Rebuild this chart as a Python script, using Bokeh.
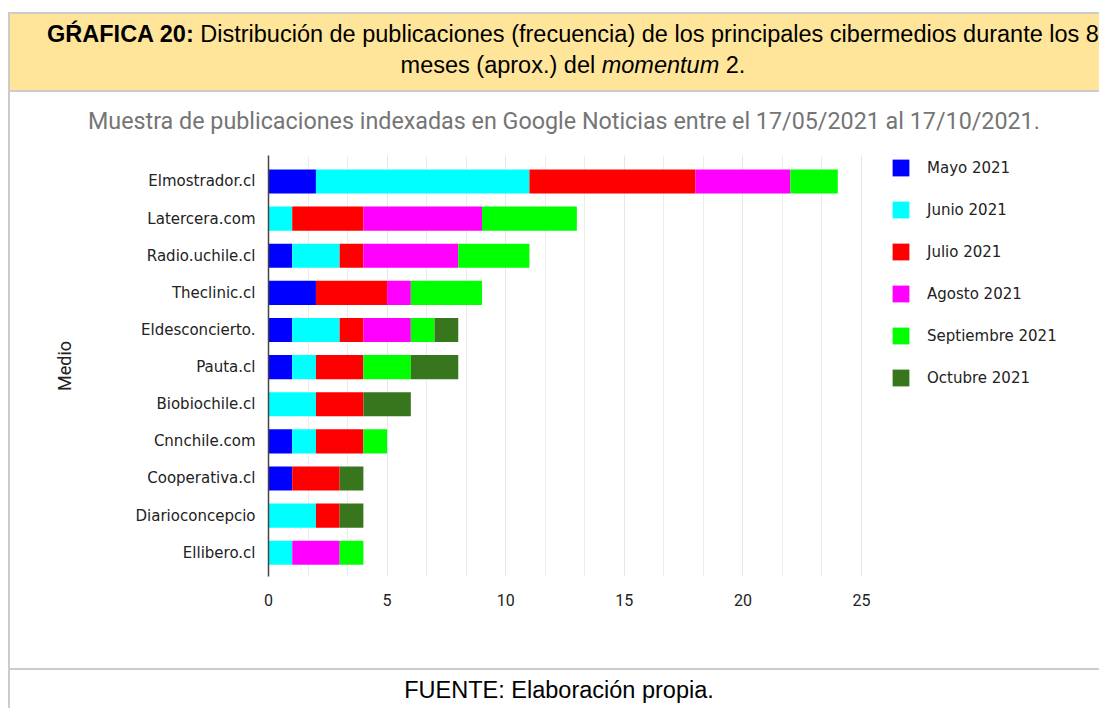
from bokeh.plotting import figure
from bokeh.models import ColumnDataSource, FixedTicker, Legend, LegendItem, Div, Range1d
from bokeh.layouts import column
from bokeh.embed import file_html
from bokeh.resources import INLINE

# ---------------- data ----------------
medios = ["Elmostrador.cl", "Latercera.com", "Radio.uchile.cl", "Theclinic.cl",
          "Eldesconcierto.", "Pauta.cl", "Biobiochile.cl", "Cnnchile.com",
          "Cooperativa.cl", "Diarioconcepcio", "Ellibero.cl"]
meses = ["Mayo 2021", "Junio 2021", "Julio 2021", "Agosto 2021",
         "Septiembre 2021", "Octubre 2021"]
mayo       = [2, 0, 1, 2, 1, 1, 0, 1, 1, 0, 0]
junio      = [9, 1, 2, 0, 2, 1, 2, 1, 0, 2, 1]
julio      = [7, 3, 1, 3, 1, 2, 2, 2, 2, 1, 0]
agosto     = [4, 5, 4, 1, 2, 0, 0, 0, 0, 0, 2]
septiembre = [2, 4, 3, 3, 1, 2, 0, 1, 0, 0, 1]
octubre    = [0, 0, 0, 0, 1, 2, 2, 0, 1, 1, 0]
colores = ["#0000ff", "#00ffff", "#ff0000", "#ff00ff", "#00ff00", "#38761d"]
x_ticks = [0, 5, 10, 15, 20, 25]

titulo = "Muestra de publicaciones indexadas en Google Noticias entre el 17/05/2021 al 17/10/2021."
eje_y = "Medio"

keys = ["mayo", "junio", "julio", "agosto", "septiembre", "octubre"]
pos = list(range(len(medios)))
src = ColumnDataSource(dict(pos=pos, mayo=mayo, junio=junio, julio=julio,
                            agosto=agosto, septiembre=septiembre, octubre=octubre))

# ---------------- figure ----------------
FW = 1089            # figure width (figure starts at x=10)
LEFT = 258           # frame starts at page x = 268
AXIS_PX = 593        # pixels spanned by 0..25
frame_w = FW - LEFT
x_end = 25 * frame_w / AXIS_PX

p = figure(width=FW, height=528, x_range=Range1d(0, x_end), y_range=Range1d(10.64, -0.70),
           output_backend="svg", toolbar_location=None,
           min_border_left=LEFT, min_border_right=0, min_border_top=15, min_border_bottom=92)
p.margin = (0, 0, 0, 10)
p.stylesheets = [":host { box-shadow: -2px 0 0 0 #cccccc; }"]
p.outline_line_color = None
p.background_fill_color = "white"
p.border_fill_color = "white"

rs = p.hbar_stack(keys, y="pos", height=0.65, fill_color=colores, line_color=None, source=src)

minor = [k * 5 / 3 for k in range(16)]
p.xaxis.ticker = FixedTicker(ticks=x_ticks, minor_ticks=minor)
p.xaxis.axis_line_color = None
p.xaxis.major_tick_line_color = None
p.xaxis.minor_tick_line_color = None
p.xaxis.major_label_text_font = "Roboto"
p.xaxis.major_label_text_font_size = "16px"
p.xaxis.major_label_text_color = "#222222"
p.xaxis.major_label_standoff = 11

p.xgrid.grid_line_color = "#e6e6e6"
p.xgrid.minor_grid_line_color = "#ececec"
p.ygrid.grid_line_color = None

p.yaxis.ticker = FixedTicker(ticks=pos)
p.yaxis.major_label_overrides = {i: m for i, m in zip(pos, medios)}
p.yaxis.axis_line_color = "#444444"
p.yaxis.axis_line_width = 1.5
p.yaxis.major_tick_line_color = None
p.yaxis.minor_tick_line_color = None
p.yaxis.major_label_standoff = 7
p.yaxis.major_label_text_font = "DejaVu Sans"
p.yaxis.major_label_text_font_size = "15px"
p.yaxis.major_label_text_color = "#222222"
p.yaxis.axis_label = eje_y
p.yaxis.axis_label_text_font = "Roboto"
p.yaxis.axis_label_text_font_size = "18px"
p.yaxis.axis_label_text_font_style = "normal"
p.yaxis.axis_label_text_color = "#222222"
p.yaxis.axis_label_standoff = 58

items = [LegendItem(label=m, renderers=[r]) for m, r in zip(meses, rs)]
legend = Legend(items=items, location=(622, 188), orientation="vertical",
                glyph_width=21, glyph_height=21, label_height=21, spacing=21,
                label_standoff=16, padding=0, margin=0,
                border_line_color=None, background_fill_alpha=0,
                label_text_font="DejaVu Sans", label_text_font_size="15px",
                label_text_color="#222222")
p.add_layout(legend, "center")

FONT = "font-family:'Liberation Sans',Arial,sans-serif;font-size:23.5px;color:#000;"

header = Div(width=1099, height=92, margin=0, text=(
    '<div style="width:1099px;height:92px;overflow:hidden;">'
    '<div style="margin-top:12px;margin-left:8px;width:1126px;height:71px;padding-top:5px;'
    'border:2px solid #cccccc;background:#ffe599;' + FONT +
    'text-align:center;line-height:31px;box-sizing:content-box;white-space:nowrap;">'
    '<b>G\u0154AFICA 20:</b> Distribuci\u00f3n de publicaciones (frecuencia) de los principales cibermedios durante los 8<br>'
    'meses (aprox.) del <i>momentum</i> 2.</div></div>'))

chart_title = Div(width=1099, height=48, margin=0, text=(
    '<div style="width:1099px;height:48px;overflow:hidden;">'
    '<div style="margin-left:8px;height:48px;border-left:2px solid #cccccc;box-sizing:border-box;'
    'padding-top:15px;padding-left:78px;line-height:28px;white-space:nowrap;'
    'font-family:Roboto,sans-serif;font-size:23.3px;color:#757575;">' + titulo + '</div></div>'))

footer = Div(width=1099, height=40, margin=0, text=(
    '<div style="width:1099px;height:40px;overflow:hidden;">'
    '<div style="margin-left:8px;width:1100px;height:40px;padding-top:6px;'
    'border-top:2px solid #cccccc;border-left:2px solid #cccccc;' + FONT +
    'text-align:center;line-height:28px;white-space:nowrap;box-sizing:border-box;">'
    'FUENTE: Elaboraci\u00f3n propia.</div></div>'))

layout = column(header, chart_title, p, footer, spacing=0)
open("out.html", "w").write(file_html(layout, INLINE))
